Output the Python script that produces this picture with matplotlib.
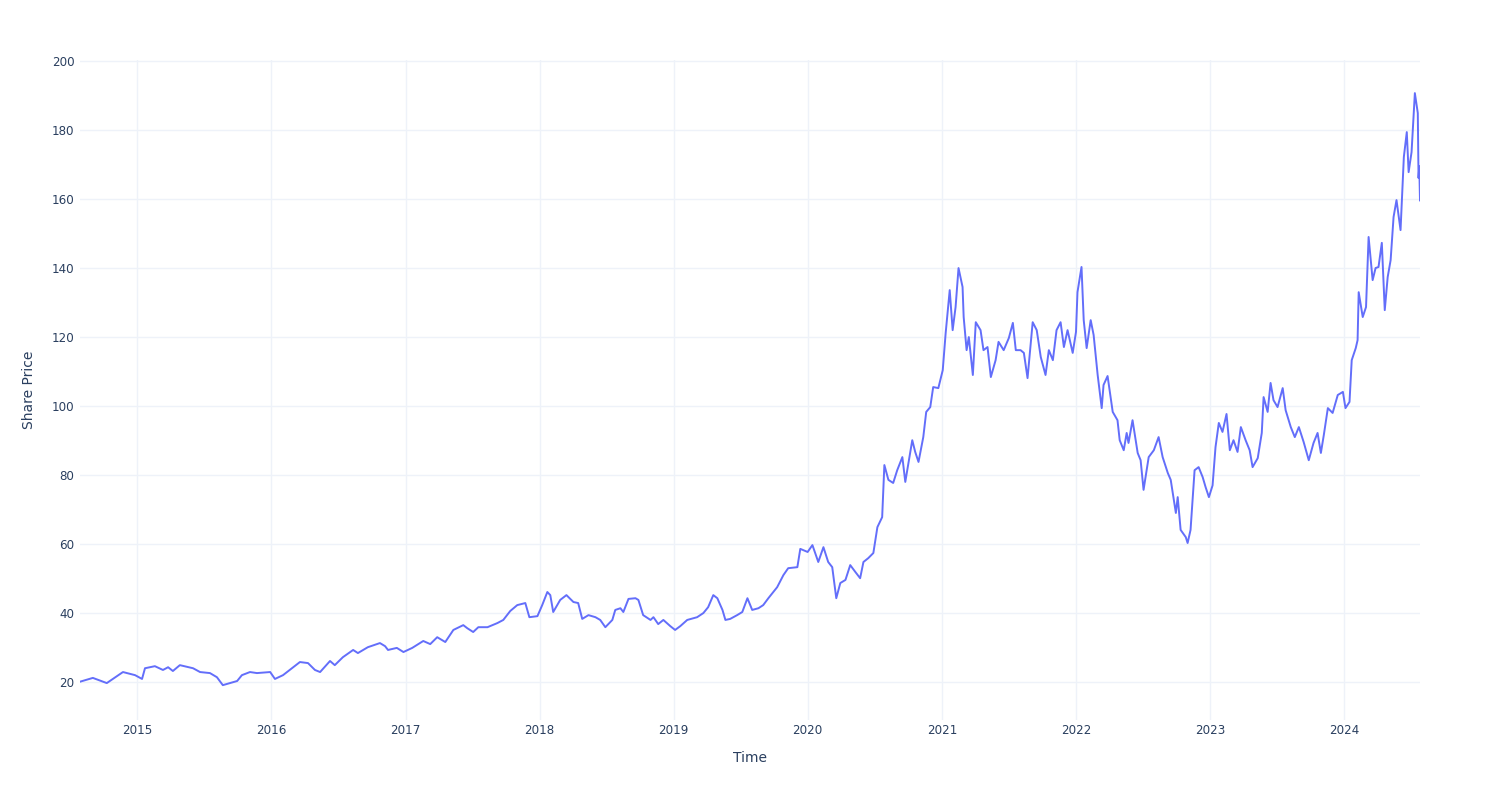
import matplotlib
matplotlib.use("Agg")
import matplotlib.pyplot as plt
import matplotlib.dates as mdates
import pandas as pd

# share price, one line per year
dates = [
    "2014-07-29", "2014-09-02", "2014-10-10", "2014-11-23", "2014-12-26",
    "2015-01-14", "2015-01-22", "2015-02-18", "2015-03-12", "2015-03-26", "2015-04-08", "2015-04-27", "2015-06-02", "2015-06-21", "2015-07-18", "2015-08-06", "2015-08-22", "2015-09-10", "2015-09-30", "2015-10-13", "2015-11-04", "2015-11-23", "2015-12-29",
    "2016-01-11", "2016-02-02", "2016-02-26", "2016-03-19", "2016-04-10", "2016-04-29", "2016-05-13", "2016-06-09", "2016-06-22", "2016-07-14", "2016-08-11", "2016-08-24", "2016-09-20", "2016-10-23", "2016-11-06", "2016-11-14", "2016-12-08", "2016-12-26",
    "2017-01-19", "2017-02-18", "2017-03-09", "2017-03-28", "2017-04-19", "2017-05-11", "2017-06-07", "2017-06-18", "2017-07-04", "2017-07-18", "2017-08-12", "2017-09-08", "2017-09-24", "2017-10-13", "2017-11-01", "2017-11-23", "2017-12-04", "2017-12-26",
    "2018-01-08", "2018-01-22", "2018-01-30", "2018-02-07", "2018-02-26", "2018-03-15", "2018-04-03", "2018-04-16", "2018-04-27", "2018-05-14", "2018-06-02", "2018-06-15", "2018-06-29", "2018-07-18", "2018-07-26", "2018-08-09", "2018-08-17", "2018-08-31", "2018-09-19", "2018-09-27", "2018-10-10", "2018-10-30", "2018-11-07", "2018-11-20", "2018-12-04", "2018-12-23",
    "2019-01-05", "2019-01-19", "2019-02-07", "2019-03-06", "2019-03-23", "2019-04-05", "2019-04-19", "2019-04-30", "2019-05-14", "2019-05-22", "2019-06-04", "2019-06-23", "2019-07-07", "2019-07-21", "2019-08-03", "2019-08-20", "2019-09-02", "2019-09-16", "2019-10-10", "2019-10-27", "2019-11-09", "2019-12-04", "2019-12-12",
    "2020-01-01", "2020-01-14", "2020-01-30", "2020-02-13", "2020-02-26", "2020-03-08", "2020-03-19", "2020-03-30", "2020-04-13", "2020-04-26", "2020-05-10", "2020-05-23", "2020-06-01", "2020-06-14", "2020-06-28", "2020-07-09", "2020-07-22", "2020-07-28", "2020-08-08", "2020-08-21", "2020-09-01", "2020-09-15", "2020-09-23", "2020-10-12", "2020-10-20", "2020-10-29", "2020-11-11", "2020-11-19", "2020-11-30", "2020-12-08", "2020-12-22",
    "2021-01-03", "2021-01-11", "2021-01-22", "2021-01-30", "2021-02-07", "2021-02-15", "2021-02-26", "2021-03-01", "2021-03-09", "2021-03-15", "2021-03-26", "2021-04-03", "2021-04-16", "2021-04-24", "2021-05-05", "2021-05-14", "2021-05-27", "2021-06-04", "2021-06-18", "2021-07-02", "2021-07-13", "2021-07-21", "2021-08-03", "2021-08-12", "2021-08-22", "2021-09-05", "2021-09-16", "2021-09-27", "2021-10-10", "2021-10-19", "2021-10-30", "2021-11-09", "2021-11-20", "2021-11-29", "2021-12-09", "2021-12-23",
    "2022-01-01", "2022-01-05", "2022-01-16", "2022-01-22", "2022-01-30", "2022-02-10", "2022-02-18", "2022-03-01", "2022-03-12", "2022-03-17", "2022-03-28", "2022-04-11", "2022-04-24", "2022-04-30", "2022-05-11", "2022-05-19", "2022-05-24", "2022-06-04", "2022-06-18", "2022-06-26", "2022-07-04", "2022-07-18", "2022-08-01", "2022-08-14", "2022-08-25", "2022-09-08", "2022-09-16", "2022-09-30", "2022-10-05", "2022-10-13", "2022-10-27", "2022-11-01", "2022-11-09", "2022-11-15", "2022-11-20", "2022-12-01", "2022-12-12", "2022-12-20", "2022-12-29",
    "2023-01-08", "2023-01-16", "2023-01-25", "2023-02-04", "2023-02-15", "2023-02-24", "2023-03-06", "2023-03-17", "2023-03-26", "2023-04-08", "2023-04-19", "2023-04-27", "2023-05-11", "2023-05-22", "2023-05-27", "2023-06-07", "2023-06-15", "2023-06-23", "2023-07-04", "2023-07-18", "2023-07-26", "2023-08-09", "2023-08-20", "2023-08-31", "2023-09-13", "2023-09-27", "2023-10-10", "2023-10-21", "2023-10-30", "2023-11-07", "2023-11-18", "2023-12-01", "2023-12-15", "2023-12-29",
    "2024-01-05", "2024-01-16", "2024-01-22", "2024-02-02", "2024-02-07", "2024-02-10", "2024-02-21", "2024-03-01", "2024-03-08", "2024-03-19", "2024-03-27", "2024-04-04", "2024-04-13", "2024-04-21", "2024-04-29", "2024-05-07", "2024-05-15", "2024-05-23", "2024-06-03", "2024-06-12", "2024-06-20", "2024-06-25", "2024-07-03", "2024-07-12", "2024-07-20", "2024-07-22", "2024-07-24", "2024-07-26",
]
prices = [
    20.1, 21.2, 19.7, 22.9, 22.0,
    20.9, 24.0, 24.6, 23.5, 24.3, 23.2, 24.9, 24.0, 22.9, 22.6, 21.4, 19.1, 19.7, 20.3, 22.0, 22.9, 22.6, 22.9,
    20.9, 22.0, 24.0, 25.8, 25.5, 23.5, 22.9, 26.1, 24.9, 27.2, 29.3, 28.4, 30.1, 31.3, 30.4, 29.3, 29.9, 28.7,
    29.9, 31.9, 31.0, 33.0, 31.6, 35.1, 36.5, 35.6, 34.5, 35.9, 35.9, 37.1, 38.0, 40.6, 42.3, 42.9, 38.8, 39.1,
    42.3, 46.1, 45.2, 40.3, 43.8, 45.2, 43.2, 42.9, 38.3, 39.4, 38.8, 38.0, 35.9, 38.0, 40.9, 41.4, 40.3, 44.1, 44.3, 43.8, 39.4, 38.0, 38.8, 36.8, 38.0, 36.2,
    35.1, 36.2, 38.0, 38.8, 40.0, 41.7, 45.2, 44.3, 40.9, 38.0, 38.3, 39.4, 40.3, 44.3, 40.9, 41.4, 42.3, 44.3, 47.5, 51.0, 53.0, 53.3, 58.6,
    57.7, 59.7, 54.8, 59.1, 54.8, 53.3, 44.3, 48.7, 49.6, 53.9, 51.9, 50.1, 54.8, 55.9, 57.4, 64.9, 67.8, 82.9, 78.6, 77.7, 81.4, 85.2, 78.0, 90.1, 86.7, 83.8, 91.0, 98.3, 99.7, 105.5, 105.2,
    110.4, 121.2, 133.6, 122.0, 128.7, 140.0, 134.5, 125.8, 116.2, 120.0, 109.0, 124.3, 122.0, 116.2, 117.1, 108.4, 113.3, 118.6, 116.2, 119.7, 124.1, 116.2, 116.2, 115.4, 108.1, 124.3, 122.0, 114.2, 109.0, 116.2, 113.3, 122.0, 124.3, 117.1, 122.0, 115.4,
    121.5, 133.0, 140.3, 124.9, 116.8, 124.9, 120.6, 109.0, 99.4, 106.1, 108.7, 98.3, 95.9, 90.1, 87.2, 92.2, 89.3, 95.9, 86.4, 84.3, 75.7, 85.2, 87.2, 91.0, 85.2, 80.6, 78.6, 69.0, 73.6, 64.1, 62.0, 60.3, 64.1, 73.6, 81.4, 82.3, 79.4, 76.5, 73.6,
    77.0, 88.1, 95.1, 92.5, 97.7, 87.2, 90.1, 86.7, 93.9, 90.1, 87.2, 82.3, 84.9, 92.2, 102.6, 98.3, 106.7, 101.7, 99.7, 105.2, 98.8, 93.9, 91.0, 93.9, 89.6, 84.3, 89.3, 92.2, 86.4, 91.6, 99.4, 98.0, 103.2, 104.1,
    99.4, 101.2, 113.3, 116.8, 119.1, 133.0, 125.8, 128.7, 149.0, 136.5, 140.0, 140.3, 147.3, 127.8, 137.4, 142.3, 154.8, 159.7, 151.0, 172.2, 179.4, 167.8, 173.6, 190.7, 184.9, 166.1, 169.5, 159.6,
]
y_ticks = [20, 40, 60, 80, 100, 120, 140, 160, 180, 200]

time = pd.to_datetime(dates)

plt.rcParams["font.family"] = ["DejaVu Sans"]
text_color = "#2a3f5f"
grid_color = "#eef2f9"

fig = plt.figure(figsize=(15, 8), dpi=100)
ax = fig.add_axes([80/1500, 80/800, 1340/1500, 660/800])

ax.plot(time, prices, color="#636efa", linewidth=1.4)

ax.set_xlim(time[0], time[-1])
ax.set_ylim(9.0, 200.3)
ax.set_yticks(y_ticks)
ax.xaxis.set_major_locator(mdates.YearLocator())
ax.xaxis.set_major_formatter(mdates.DateFormatter("%Y"))

ax.grid(True, color=grid_color, linewidth=1)
ax.set_axisbelow(True)
for s in ax.spines.values():
    s.set_visible(False)
ax.tick_params(length=0, labelsize=8.6, labelcolor=text_color)
ax.tick_params(axis="x", pad=3)
ax.tick_params(axis="y", pad=4)

ax.set_xlabel("Time", fontsize=10, color=text_color, labelpad=10)
ax.set_ylabel("Share Price", fontsize=10, color=text_color, labelpad=11)

fig.savefig("out.png")
